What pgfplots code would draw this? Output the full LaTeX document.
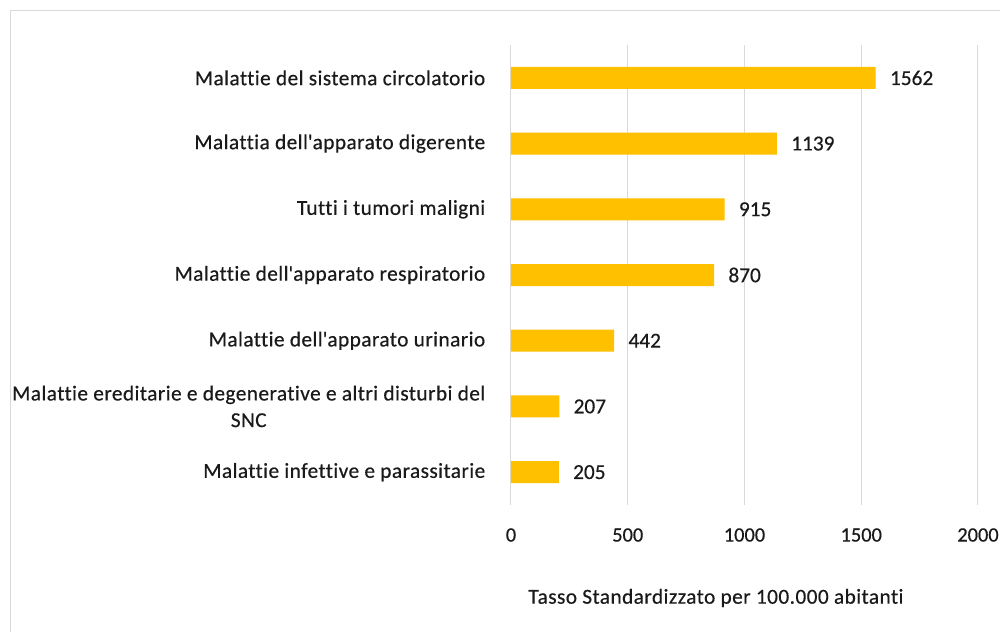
\documentclass[border=0pt]{standalone}
\usepackage{pgfplots}
\pgfplotsset{compat=1.18}
\usepackage{fontspec}
\setmainfont{Carlito}[Ligatures={NoCommon}, FakeBold=0.4]
\newfontfamily\labfont{Carlito}[Ligatures={NoCommon}, FakeBold=0.4, LetterSpace=2]
\definecolor{barc}{HTML}{FFC000}
\definecolor{gridc}{HTML}{D9D9D9}
\definecolor{txt}{HTML}{1A1A1A}
\begin{document}
\begin{tikzpicture}
\useasboundingbox (0,0) rectangle (750pt,474pt);
\fill[white] (0,0) rectangle (750pt,474pt);
\draw[gridc, line width=0.75pt] (7.875pt,-5pt) -- (7.875pt,466pt) -- (760pt,466pt);
\begin{axis}[
  at={(383.25pt,95.25pt)}, anchor=south west,
  width=350.25pt, height=345pt, scale only axis,
  xbar, bar width=16.5pt,
  xmin=0, xmax=2000, ymin=0.5, ymax=7.5,
  xtick={0,500,1000,1500,2000},
  ytick={1,2,3,4,5,6,7},
  yticklabels={Malattie infettive e parassitarie,
    {Malattie ereditarie e degenerative e altri disturbi del\\SNC},
    Malattie dell\textquotesingle apparato urinario,
    Malattie dell\textquotesingle apparato respiratorio,
    Tutti i tumori maligni,
    Malattia dell\textquotesingle apparato digerente,
    Malattie del sistema circolatorio},
  axis line style={draw=none},
  major tick length=0pt,
  xmajorgrids, grid style={gridc, line width=0.75pt},
  /pgf/number format/assume math mode=true,
  /pgf/number format/1000 sep={},
  every tick label/.append style={text=txt},
  xticklabel style={anchor=center, yshift=-22.5pt, font=\fontsize{15.3pt}{18pt}\selectfont},
  yticklabel style={anchor=east, xshift=-15.75pt, align=center, font=\labfont\fontsize{16pt}{20pt}\selectfont},
  nodes near coords,
  nodes near coords style={anchor=west, inner sep=0pt, xshift=10.5pt, text=txt, font=\fontsize{16pt}{18pt}\selectfont},
  clip=false,
]
\addplot[fill=barc, draw=none] coordinates {(205,1) (207,2) (442,3) (870,4) (915,5) (1139,6) (1562,7)};
\end{axis}
\node[text=txt, font=\labfont\fontsize{16pt}{18pt}\selectfont] at (537pt,25.5pt) {Tasso Standardizzato per 100.000 abitanti};
\end{tikzpicture}
\end{document}
